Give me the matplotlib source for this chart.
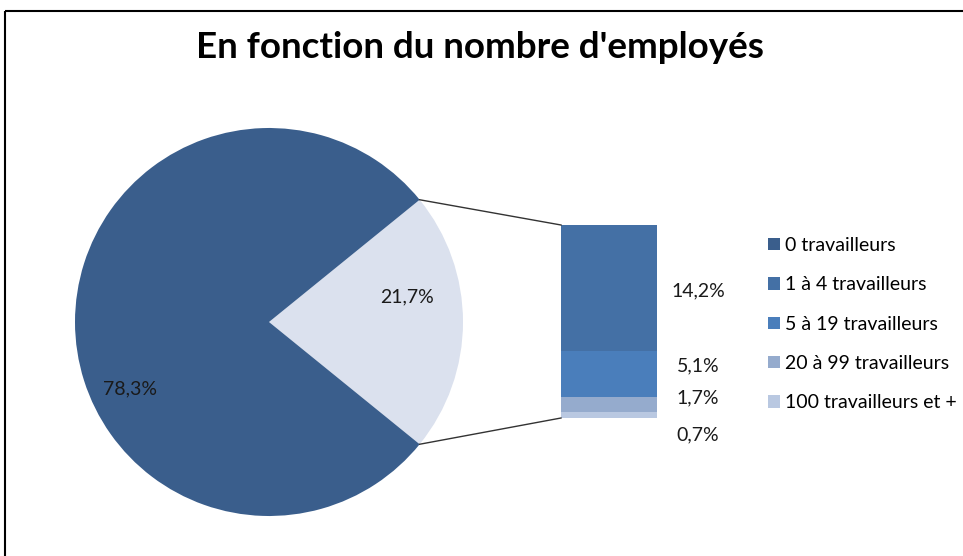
import matplotlib.pyplot as plt
from matplotlib.patches import Rectangle
import numpy as np

plt.rcParams['font.family'] = ['Lato', 'DejaVu Sans']

# data
pie_labels = ['1 travailleur et +', '0 travailleurs']
pie_values = [21.7, 78.3]
bar_labels = ['1 à 4 travailleurs', '5 à 19 travailleurs', '20 à 99 travailleurs', '100 travailleurs et +']
bar_values = [14.2, 5.1, 1.7, 0.7]

pie_colors = ['#dbe1ee', '#3a5e8c']
bar_colors = ['#4470a5', '#4a7ebb', '#95abcd', '#b9c8e1']

W, H = 963, 556
CX, CY, R = 269, 322, 194
BAR_X, BAR_W, BAR_TOP, BAR_H = 561, 96, 225, 193
LABEL_SIZE = 14


def fmt(v):
    return f'{v:.1f}'.replace('.', ',') + '%'


fig = plt.figure(figsize=(W / 100, H / 100), dpi=100)
ax = fig.add_axes([0, 0, 1, 1])

# frame (cropped on right / bottom)
ax.add_patch(Rectangle((5, 11), 1200, 800, fill=False, edgecolor='black', linewidth=1.5))

half = pie_values[0] / 100 * 360 / 2
wedges, _ = ax.pie(pie_values, colors=pie_colors, startangle=-half, center=(CX, CY),
                   radius=R, frame=True, wedgeprops=dict(linewidth=0))
ax.set_xlim(0, W)
ax.set_ylim(H, 0)
ax.set_aspect('equal')
ax.axis('off')

ax.text(130, 389, fmt(pie_values[1]), fontsize=LABEL_SIZE, ha='center', va='center', color='#1a1a1a')
ax.text(407, 297, fmt(pie_values[0]), fontsize=LABEL_SIZE, ha='center', va='center', color='#1a1a1a')

# stacked bar
scale = BAR_H / sum(bar_values)
bottom = BAR_TOP
bars = []
for v, c, lab in zip(bar_values, bar_colors, bar_labels):
    b = ax.bar(BAR_X, v * scale, width=BAR_W, bottom=bottom, color=c, align='edge', label=lab)
    bars.append(b)
    bottom += v * scale

label_y = [291, 366, 398, 435]
for v, y in zip(bar_values, label_y):
    ax.text(698, y, fmt(v), fontsize=LABEL_SIZE, ha='center', va='center', color='#1a1a1a')

# connector lines
a = np.deg2rad(half)
ex = CX + R * np.cos(a)
ax.plot([ex, BAR_X], [CY - R * np.sin(a), BAR_TOP], color='#333333', linewidth=1)
ax.plot([ex, BAR_X], [CY + R * np.sin(a), BAR_TOP + BAR_H], color='#333333', linewidth=1)

ax.text(480, 58, "En fonction du nombre d'employés", fontsize=26.5, fontweight='bold',
        ha='center', va='baseline', color='black')

handles = [wedges[1]] + [b[0] for b in bars]
labels = ['0 travailleurs'] + bar_labels
ax.legend(handles, labels, loc='upper left', bbox_to_anchor=(768 / W, 1 - 237 / H),
          frameon=False, fontsize=LABEL_SIZE, handlelength=0.6, handleheight=0.6,
          handletextpad=0.25, labelspacing=1.15, borderaxespad=0, borderpad=0)

fig.savefig('out.png', dpi=100)
